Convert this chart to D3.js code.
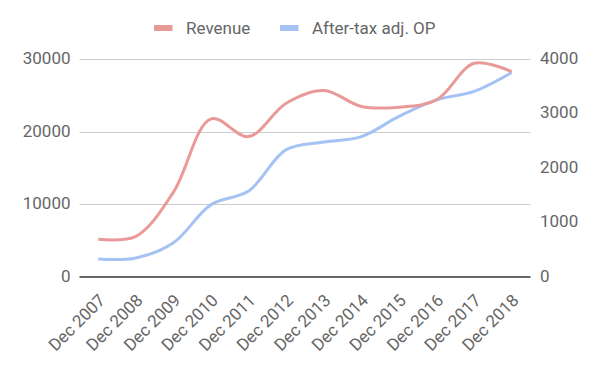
<!DOCTYPE html>
<html>
<head>
<meta charset="utf-8">
<script src="https://cdn.jsdelivr.net/npm/d3@7"></script>
<style>
  body { margin: 0; background: #fff; }
  text { font-family: Roboto, sans-serif; }
</style>
</head>
<body>
<div id="root"></div>
<script>
const categories = ['Dec 2007', 'Dec 2008', 'Dec 2009', 'Dec 2010', 'Dec 2011', 'Dec 2012',
  'Dec 2013', 'Dec 2014', 'Dec 2015', 'Dec 2016', 'Dec 2017', 'Dec 2018'];
const revenue = [5200, 5600, 11700, 21800, 19350, 23950, 25700, 23500, 23400, 24400, 29450, 28300];
const afterTaxOP = [330, 350, 630, 1330, 1580, 2340, 2480, 2580, 2950, 3255, 3410, 3757];
const leftTicks = [0, 10000, 20000, 30000];
const rightTicks = [0, 1000, 2000, 3000, 4000];

const width = 600;
const height = 371;
const plot = { left: 79.5, right: 530.5, top: 59.3, bottom: 277 };
const fontSize = 17;
const textColor = '#666';

const svg = d3.select('#root').append('svg')
  .attr('width', width)
  .attr('height', height);

const x = d3.scalePoint()
  .domain(categories)
  .range([plot.left, plot.right])
  .padding(0.5);

const yLeft = d3.scaleLinear().domain([0, 30000]).range([plot.bottom, plot.top]);
const yRight = d3.scaleLinear().domain([0, 4000]).range([plot.bottom, plot.top]);

// gridlines from left axis
svg.append('g')
  .selectAll('line')
  .data(leftTicks.filter(d => d !== 0))
  .join('line')
  .attr('x1', plot.left)
  .attr('x2', plot.right)
  .attr('y1', d => Math.round(yLeft(d)) + 0.5)
  .attr('y2', d => Math.round(yLeft(d)) + 0.5)
  .attr('stroke', '#ccc')
  .attr('stroke-width', 1);

// left axis labels
svg.append('g')
  .selectAll('text')
  .data(leftTicks)
  .join('text')
  .attr('x', plot.left - 9)
  .attr('y', d => yLeft(d))
  .attr('dy', '0.28em')
  .attr('text-anchor', 'end')
  .attr('font-size', fontSize)
  .attr('fill', textColor)
  .text(d => d);

// right axis labels
svg.append('g')
  .selectAll('text')
  .data(rightTicks)
  .join('text')
  .attr('x', plot.right + 9.5)
  .attr('y', d => yRight(d))
  .attr('dy', '0.28em')
  .attr('text-anchor', 'start')
  .attr('font-size', fontSize)
  .attr('fill', textColor)
  .text(d => d);

// x labels, rotated
svg.append('g')
  .selectAll('text')
  .data(categories)
  .join('text')
  .attr('transform', d => `translate(${x(d) + 8}, ${plot.bottom + 24.5}) rotate(-45)`)
  .attr('text-anchor', 'end')
  .attr('font-size', fontSize)
  .attr('fill', textColor)
  .text(d => d);

const line = (scale) => d3.line()
  .x((d, i) => x(categories[i]))
  .y(d => scale(d))
  .curve(d3.curveCatmullRom.alpha(0.5));

svg.append('path')
  .datum(afterTaxOP)
  .attr('d', line(yRight))
  .attr('fill', 'none')
  .attr('stroke', '#a4c2f4')
  .attr('stroke-width', 3);

svg.append('path')
  .datum(revenue)
  .attr('d', line(yLeft))
  .attr('fill', 'none')
  .attr('stroke', '#ea9999')
  .attr('stroke-width', 3);

// baseline
svg.append('line')
  .attr('x1', plot.left)
  .attr('x2', plot.right)
  .attr('y1', plot.bottom)
  .attr('y2', plot.bottom)
  .attr('stroke', '#333')
  .attr('stroke-width', 1.5);

// legend
const legendItems = [
  { name: 'Revenue', color: '#ea9999', x: 154 },
  { name: 'After-tax adj. OP', color: '#a4c2f4', x: 280 }
];
const legend = svg.append('g')
  .selectAll('g')
  .data(legendItems)
  .join('g')
  .attr('transform', d => `translate(${d.x}, 28)`);

legend.append('rect')
  .attr('x', 0)
  .attr('y', -3)
  .attr('width', 18.5)
  .attr('height', 6)
  .attr('fill', d => d.color);

legend.append('text')
  .attr('x', 32)
  .attr('y', 0)
  .attr('dy', '0.33em')
  .attr('font-size', fontSize)
  .attr('fill', textColor)
  .text(d => d.name);
</script>
</body>
</html>
